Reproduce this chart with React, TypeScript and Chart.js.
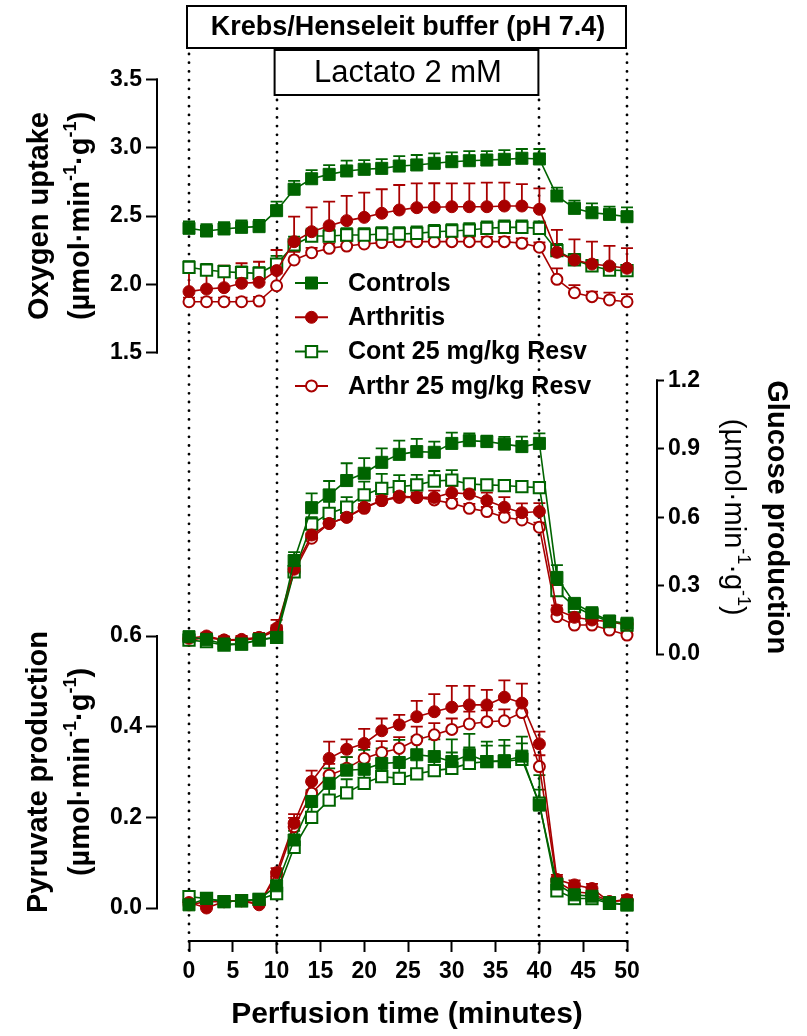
import React, { useEffect, useRef } from 'react';
import { Chart, registerables } from 'chart.js';

Chart.register(...registerables);

// ---------------- data ----------------
const TIME = [0, 2, 4, 6, 8, 10, 12, 14, 16, 18, 20, 22, 24, 26, 28, 30, 32, 34, 36, 38, 40, 42, 44, 46, 48, 50];
const X_TICKS = [0, 5, 10, 15, 20, 25, 30, 35, 40, 45, 50];
const O2_TICKS = [1.5, 2.0, 2.5, 3.0, 3.5];
const GLU_TICKS = [0, 0.3, 0.6, 0.9, 1.2];
const PYR_TICKS = [0, 0.2, 0.4, 0.6];
const PHASE_MARKS = [0, 10, 40, 50];

const SERIES_LABELS = ['Controls', 'Arthritis', 'Cont 25 mg/kg Resv', 'Arthr 25 mg/kg Resv'];

// Oxygen uptake
const O2_CONTROLS = [2.41, 2.39, 2.405, 2.417, 2.422, 2.539, 2.696, 2.773, 2.805, 2.83, 2.842, 2.849, 2.866, 2.874, 2.886, 2.898, 2.905, 2.91, 2.915, 2.923, 2.918, 2.647, 2.556, 2.524, 2.512, 2.495];
const O2_CONTROLS_SEM = [0.05, 0.05, 0.05, 0.05, 0.05, 0.066, 0.061, 0.063, 0.068, 0.076, 0.068, 0.068, 0.073, 0.073, 0.073, 0.068, 0.071, 0.066, 0.068, 0.068, 0.073, 0.061, 0.056, 0.068, 0.056, 0.068];
const O2_ARTHRITIS = [1.946, 1.965, 1.975, 2.007, 2.014, 2.1, 2.312, 2.385, 2.429, 2.466, 2.49, 2.52, 2.544, 2.561, 2.564, 2.568, 2.568, 2.568, 2.573, 2.573, 2.549, 2.234, 2.178, 2.148, 2.134, 2.117];
const O2_ARTHRITIS_SEM = [0.147, 0.164, 0.161, 0.147, 0.151, 0.151, 0.183, 0.178, 0.176, 0.181, 0.181, 0.176, 0.183, 0.178, 0.176, 0.171, 0.171, 0.176, 0.171, 0.161, 0.154, 0.164, 0.151, 0.164, 0.147, 0.147];
const O2_CONT_RESV = [2.124, 2.104, 2.092, 2.085, 2.08, 2.148, 2.288, 2.353, 2.353, 2.361, 2.361, 2.368, 2.368, 2.373, 2.385, 2.39, 2.397, 2.41, 2.417, 2.417, 2.41, 2.246, 2.178, 2.134, 2.104, 2.1];
const O2_CONT_RESV_SEM = [0.045, 0.045, 0.045, 0.045, 0.045, 0.06, 0.06, 0.055, 0.05, 0.05, 0.05, 0.05, 0.05, 0.05, 0.05, 0.05, 0.05, 0.05, 0.05, 0.05, 0.05, 0.05, 0.045, 0.045, 0.04, 0.04];
const O2_ARTHR_RESV = [1.872, 1.872, 1.872, 1.872, 1.877, 1.989, 2.178, 2.231, 2.263, 2.28, 2.295, 2.305, 2.312, 2.312, 2.312, 2.312, 2.312, 2.312, 2.312, 2.3, 2.271, 2.036, 1.938, 1.909, 1.885, 1.872];
const O2_ARTHR_RESV_SEM = [0.03, 0.03, 0.03, 0.03, 0.03, 0.09, 0.06, 0.035, 0.035, 0.035, 0.035, 0.035, 0.035, 0.035, 0.035, 0.035, 0.035, 0.035, 0.035, 0.035, 0.035, 0.08, 0.056, 0.037, 0.054, 0.056];

// Glucose production
const GLU_CONTROLS = [0.076, 0.064, 0.044, 0.044, 0.064, 0.073, 0.41, 0.642, 0.698, 0.761, 0.793, 0.841, 0.876, 0.888, 0.885, 0.924, 0.936, 0.932, 0.921, 0.91, 0.924, 0.336, 0.222, 0.181, 0.145, 0.135];
const GLU_CONTROLS_SEM = [0.015, 0.015, 0.015, 0.015, 0.015, 0.02, 0.037, 0.063, 0.061, 0.076, 0.066, 0.061, 0.06, 0.056, 0.047, 0.047, 0.032, 0.026, 0.032, 0.044, 0.044, 0.054, 0.02, 0.02, 0.015, 0.015];
const GLU_ARTHRITIS = [0.069, 0.079, 0.061, 0.064, 0.073, 0.113, 0.372, 0.522, 0.573, 0.6, 0.644, 0.673, 0.693, 0.687, 0.687, 0.708, 0.702, 0.673, 0.644, 0.62, 0.625, 0.193, 0.161, 0.149, 0.142, 0.132];
const GLU_ARTHRITIS_SEM = [0.015, 0.015, 0.015, 0.015, 0.02, 0.037, 0.03, 0.037, 0.03, 0.03, 0.03, 0.03, 0.03, 0.03, 0.03, 0.03, 0.03, 0.035, 0.044, 0.041, 0.037, 0.02, 0.02, 0.015, 0.015, 0.015];
const GLU_CONT_RESV = [0.061, 0.054, 0.039, 0.044, 0.061, 0.073, 0.361, 0.57, 0.617, 0.644, 0.698, 0.727, 0.734, 0.742, 0.759, 0.763, 0.746, 0.742, 0.739, 0.734, 0.73, 0.278, 0.208, 0.171, 0.142, 0.127];
const GLU_CONT_RESV_SEM = [0.015, 0.015, 0.015, 0.015, 0.015, 0.02, 0.03, 0.03, 0.051, 0.044, 0.058, 0.063, 0.051, 0.044, 0.044, 0.044, 0.02, 0.02, 0.02, 0.02, 0.02, 0.03, 0.02, 0.02, 0.015, 0.015];
const GLU_ARTHR_RESV = [0.061, 0.073, 0.061, 0.061, 0.069, 0.105, 0.361, 0.508, 0.573, 0.6, 0.639, 0.673, 0.687, 0.687, 0.676, 0.661, 0.639, 0.625, 0.6, 0.588, 0.556, 0.164, 0.127, 0.127, 0.105, 0.083];
const GLU_ARTHR_RESV_SEM = [0.015, 0.015, 0.015, 0.015, 0.015, 0.02, 0.02, 0.02, 0.02, 0.02, 0.02, 0.02, 0.02, 0.02, 0.02, 0.02, 0.02, 0.02, 0.02, 0.02, 0.02, 0.02, 0.015, 0.015, 0.015, 0.015];

// Pyruvate production
const PYR_CONTROLS = [0.007, 0.021, 0.014, 0.016, 0.019, 0.049, 0.15, 0.235, 0.275, 0.304, 0.306, 0.319, 0.321, 0.338, 0.334, 0.323, 0.338, 0.323, 0.325, 0.335, 0.227, 0.053, 0.029, 0.026, 0.012, 0.007];
const PYR_CONTROLS_SEM = [0.01, 0.01, 0.01, 0.01, 0.01, 0.015, 0.02, 0.025, 0.033, 0.029, 0.043, 0.033, 0.05, 0.04, 0.038, 0.049, 0.046, 0.044, 0.046, 0.043, 0.066, 0.01, 0.01, 0.01, 0.01, 0.01];
const PYR_ARTHRITIS = [0.012, 0.0, 0.014, 0.016, 0.007, 0.078, 0.187, 0.279, 0.33, 0.35, 0.363, 0.391, 0.404, 0.422, 0.433, 0.443, 0.448, 0.448, 0.465, 0.452, 0.362, 0.063, 0.051, 0.043, 0.014, 0.018];
const PYR_ARTHRITIS_SEM = [0.01, 0.01, 0.01, 0.01, 0.01, 0.01, 0.02, 0.024, 0.037, 0.022, 0.032, 0.027, 0.022, 0.035, 0.039, 0.047, 0.042, 0.033, 0.037, 0.043, 0.027, 0.01, 0.01, 0.01, 0.01, 0.01];
const PYR_CONT_RESV = [0.025, 0.021, 0.014, 0.016, 0.019, 0.032, 0.134, 0.2, 0.238, 0.254, 0.275, 0.29, 0.286, 0.296, 0.303, 0.308, 0.319, 0.323, 0.323, 0.328, 0.231, 0.038, 0.021, 0.021, 0.01, 0.007];
const PYR_CONT_RESV_SEM = [0.01, 0.01, 0.01, 0.01, 0.01, 0.01, 0.02, 0.025, 0.03, 0.03, 0.03, 0.035, 0.035, 0.035, 0.035, 0.035, 0.035, 0.035, 0.035, 0.035, 0.03, 0.01, 0.01, 0.01, 0.01, 0.01];
const PYR_ARTHR_RESV = [0.007, 0.014, 0.014, 0.016, 0.01, 0.069, 0.179, 0.253, 0.293, 0.308, 0.33, 0.343, 0.352, 0.371, 0.382, 0.394, 0.406, 0.411, 0.413, 0.431, 0.312, 0.058, 0.036, 0.032, 0.014, 0.018];
const PYR_ARTHR_RESV_SEM = [0.01, 0.01, 0.01, 0.01, 0.01, 0.01, 0.02, 0.025, 0.025, 0.025, 0.025, 0.025, 0.025, 0.029, 0.026, 0.024, 0.027, 0.025, 0.025, 0.025, 0.025, 0.01, 0.01, 0.01, 0.01, 0.01];

// ---------------- styles & layout ----------------
const GREEN = '#006400';
const RED = '#a80000';
const FAMILY = '"Liberation Sans", Arial, Helvetica, sans-serif';
const W = 807;
const H = 1036;
const AREA = { left: 158, right: 656, top: 50, bottom: 940 };
const SPLIT = 495; // boundary between the two stacked left axes
const X_PX = { v0: 0, p0: 189, v1: 50, p1: 627 };

const SERIES_STYLE = [
  { color: GREEN, shape: 'rect', filled: true },
  { color: RED, shape: 'circle', filled: true },
  { color: GREEN, shape: 'rect', filled: false },
  { color: RED, shape: 'circle', filled: false },
];

type Part = { t: string; sup?: boolean };
const UNIT_PARTS: Part[] = [{ t: '(µmol·min' }, { t: '-1', sup: true }, { t: '·g' }, { t: '-1', sup: true }, { t: ')' }];

// value range of an axis box [boxTop, boxBottom] so that [vLo,vHi] lands on pixels [pLo,pHi]
function spanFor(vLo: number, vHi: number, pLo: number, pHi: number, boxTop: number, boxBottom: number) {
  const k = (vHi - vLo) / (pLo - pHi);
  return { min: vLo - (boxBottom - pLo) * k, max: vHi + (pHi - boxTop) * k };
}
function xSpan() {
  const k = (X_PX.v1 - X_PX.v0) / (X_PX.p1 - X_PX.p0);
  return { min: X_PX.v0 - (X_PX.p0 - AREA.left) * k, max: X_PX.v1 + (AREA.right - X_PX.p1) * k };
}

const PANELS = [
  { axis: 'yO', values: [O2_CONTROLS, O2_ARTHRITIS, O2_CONT_RESV, O2_ARTHR_RESV], sems: [O2_CONTROLS_SEM, O2_ARTHRITIS_SEM, O2_CONT_RESV_SEM, O2_ARTHR_RESV_SEM] },
  { axis: 'yG', values: [GLU_CONTROLS, GLU_ARTHRITIS, GLU_CONT_RESV, GLU_ARTHR_RESV], sems: [GLU_CONTROLS_SEM, GLU_ARTHRITIS_SEM, GLU_CONT_RESV_SEM, GLU_ARTHR_RESV_SEM] },
  { axis: 'yP', values: [PYR_CONTROLS, PYR_ARTHRITIS, PYR_CONT_RESV, PYR_ARTHR_RESV], sems: [PYR_CONTROLS_SEM, PYR_ARTHRITIS_SEM, PYR_CONT_RESV_SEM, PYR_ARTHR_RESV_SEM] },
];

function drawMarker(ctx: CanvasRenderingContext2D, shape: string, filled: boolean, color: string, x: number, y: number) {
  ctx.save();
  ctx.fillStyle = filled ? color : '#ffffff';
  ctx.strokeStyle = color;
  ctx.lineWidth = filled ? 1 : 2;
  ctx.beginPath();
  if (shape === 'rect') {
    const s = filled ? 6 : 5.7;
    ctx.rect(x - s, y - s, 2 * s, 2 * s);
  } else {
    ctx.arc(x, y, filled ? 6 : 5.5, 0, Math.PI * 2);
  }
  ctx.fill();
  ctx.stroke();
  ctx.restore();
}

function drawRich(ctx: CanvasRenderingContext2D, parts: Part[], cx: number, cy: number, rot: number, size: number, weight: string) {
  ctx.save();
  ctx.translate(cx, cy);
  ctx.rotate(rot);
  ctx.textBaseline = 'middle';
  ctx.textAlign = 'left';
  ctx.fillStyle = '#000';
  const fontFor = (p: Part) => `${weight} ${p.sup ? Math.round(size * 0.62) : size}px ${FAMILY}`;
  const widths = parts.map((p) => {
    ctx.font = fontFor(p);
    return ctx.measureText(p.t).width;
  });
  const total = widths.reduce((a, b) => a + b, 0);
  let x = -total / 2;
  parts.forEach((p, i) => {
    ctx.font = fontFor(p);
    ctx.fillText(p.t, x, p.sup ? -size * 0.36 : 0);
    x += widths[i];
  });
  ctx.restore();
}

const decorPlugin = {
  id: 'decor',
  beforeDatasetsDraw(chart: any) {
    const ctx: CanvasRenderingContext2D = chart.ctx;
    const xs = chart.scales.x;
    // dotted phase lines
    ctx.save();
    ctx.strokeStyle = '#000';
    ctx.lineWidth = 2.8;
    ctx.lineCap = 'round';
    ctx.setLineDash([0, 8.7]);
    PHASE_MARKS.forEach((v) => {
      const inner = v > PHASE_MARKS[0] && v < PHASE_MARKS[PHASE_MARKS.length - 1];
      const px = Math.round(xs.getPixelForValue(v));
      ctx.beginPath();
      ctx.moveTo(px, inner ? 100 : 54);
      ctx.lineTo(px, AREA.bottom + 18);
      ctx.stroke();
    });
    ctx.restore();

    // error bars (upper only)
    ctx.save();
    ctx.setLineDash([]);
    ctx.lineWidth = 1.8;
    for (let i = chart.data.datasets.length - 1; i >= 0; i--) {
      const ds = chart.data.datasets[i];
      const ys = chart.scales[ds.yAxisID];
      const meta = chart.getDatasetMeta(i);
      ctx.strokeStyle = ds.borderColor;
      meta.data.forEach((pt: any, j: number) => {
        const top = ys.getPixelForValue(ds.data[j].y + ds.sem[j]);
        ctx.beginPath();
        ctx.moveTo(pt.x, pt.y);
        ctx.lineTo(pt.x, top);
        ctx.moveTo(pt.x - 6, top);
        ctx.lineTo(pt.x + 6, top);
        ctx.stroke();
      });
    }
    ctx.restore();
  },
  afterDraw(chart: any) {
    const ctx: CanvasRenderingContext2D = chart.ctx;
    const { x: xs, yO, yG, yP } = chart.scales;
    ctx.save();
    ctx.strokeStyle = '#000';
    ctx.lineWidth = 2;
    ctx.lineCap = 'square';
    const vline = (px: number, a: number, b: number) => {
      ctx.beginPath();
      ctx.moveTo(px, a);
      ctx.lineTo(px, b);
      ctx.stroke();
    };
    // axis lines spanning only the tick range
    vline(yO.right - 1, yO.getPixelForValue(O2_TICKS[O2_TICKS.length - 1]), yO.getPixelForValue(O2_TICKS[0]));
    vline(yP.right - 1, yP.getPixelForValue(PYR_TICKS[PYR_TICKS.length - 1]), yP.getPixelForValue(PYR_TICKS[0]));
    vline(yG.left + 1, yG.getPixelForValue(GLU_TICKS[GLU_TICKS.length - 1]), yG.getPixelForValue(GLU_TICKS[0]));
    ctx.beginPath();
    ctx.moveTo(xs.getPixelForValue(X_TICKS[0]), xs.top + 1);
    ctx.lineTo(xs.getPixelForValue(X_TICKS[X_TICKS.length - 1]), xs.top + 1);
    ctx.stroke();

    // condition boxes
    const x0 = xs.getPixelForValue(PHASE_MARKS[0]);
    const x10 = xs.getPixelForValue(PHASE_MARKS[1]);
    const x40 = xs.getPixelForValue(PHASE_MARKS[2]);
    const x50 = xs.getPixelForValue(PHASE_MARKS[3]);
    ctx.lineCap = 'butt';
    ctx.fillStyle = '#fff';
    ctx.fillRect(x0 - 2, 6, x50 - x0 + 1, 42);
    ctx.strokeRect(x0 - 2, 6, x50 - x0 + 1, 42);
    ctx.fillRect(x10 - 2, 50, x40 - x10 + 1, 45);
    ctx.strokeRect(x10 - 2, 50, x40 - x10 + 1, 45);
    ctx.fillStyle = '#000';
    ctx.textAlign = 'center';
    ctx.textBaseline = 'middle';
    ctx.font = `bold 27px ${FAMILY}`;
    ctx.fillText('Krebs/Henseleit buffer (pH 7.4)', (x0 + x50) / 2, 28);
    ctx.font = `31px ${FAMILY}`;
    ctx.fillText('Lactato 2 mM', (x10 + x40) / 2, 73);

    // y-axis titles
    const midO = (yO.getPixelForValue(O2_TICKS[0]) + yO.getPixelForValue(O2_TICKS[O2_TICKS.length - 1])) / 2;
    const midP = (yP.getPixelForValue(PYR_TICKS[0]) + yP.getPixelForValue(PYR_TICKS[PYR_TICKS.length - 1])) / 2;
    const midG = (yG.getPixelForValue(GLU_TICKS[0]) + yG.getPixelForValue(GLU_TICKS[GLU_TICKS.length - 1])) / 2;
    drawRich(ctx, [{ t: 'Oxygen uptake' }], 40, midO, -Math.PI / 2, 29, 'bold');
    drawRich(ctx, UNIT_PARTS, 81, midO, -Math.PI / 2, 29, 'bold');
    drawRich(ctx, [{ t: 'Pyruvate production' }], 39, midP, -Math.PI / 2, 29, 'bold');
    drawRich(ctx, UNIT_PARTS, 81, midP, -Math.PI / 2, 29, 'bold');
    drawRich(ctx, [{ t: 'Glucose production' }], 776, midG, Math.PI / 2, 29, 'bold');
    drawRich(ctx, UNIT_PARTS, 733, midG, Math.PI / 2, 29, 'normal');

    // legend
    const LX = 295;
    const LW = 33;
    const LY = 283;
    const LDY = 34.3;
    SERIES_LABELS.forEach((label, i) => {
      const st = SERIES_STYLE[i];
      const y = LY + i * LDY;
      ctx.strokeStyle = st.color;
      ctx.lineWidth = 2;
      ctx.beginPath();
      ctx.moveTo(LX, y);
      ctx.lineTo(LX + LW, y);
      ctx.stroke();
      drawMarker(ctx, st.shape, st.filled, st.color, LX + LW / 2, y);
      ctx.fillStyle = '#000';
      ctx.textAlign = 'left';
      ctx.textBaseline = 'middle';
      ctx.font = `bold 25px ${FAMILY}`;
      ctx.fillText(label, 348, y + 1);
    });
    ctx.restore();
  },
};

function tickFont() {
  return { family: FAMILY, size: 23, weight: 'bold' as const };
}

function yAxis(position: string, ticks: number[], span: { min: number; max: number }, weight: number, width: number, tickLength: number, stackWeight: number, stack?: string) {
  const cfg: any = {
    type: 'linear' as const,
    position,
    min: span.min,
    max: span.max,
    weight,
    afterBuildTicks: (s: any) => {
      s.ticks = ticks.map((v) => ({ value: v }));
    },
    afterFit: (s: any) => {
      s.width = width;
    },
    grid: { display: true, drawOnChartArea: false, drawTicks: true, tickLength, tickWidth: 2, tickColor: '#000', color: '#000' },
    border: { display: false },
    ticks: { autoSkip: false, padding: 4, color: '#000', font: tickFont(), callback: (v: any) => Number(v).toFixed(1) },
  };
  if (stack) {
    cfg.stack = stack;
    cfg.stackWeight = stackWeight;
  }
  return cfg;
}

export default function App() {
  const ref = useRef<HTMLCanvasElement | null>(null);
  useEffect(() => {
    if (!ref.current) return;
    const datasets: any[] = [];
    PANELS.forEach((panel) => {
      panel.values.forEach((vals, i) => {
        const st = SERIES_STYLE[i];
        datasets.push({
          label: SERIES_LABELS[i],
          yAxisID: panel.axis,
          data: TIME.map((t, j) => ({ x: t, y: vals[j] })),
          sem: panel.sems[i],
          borderColor: st.color,
          borderWidth: 1.6,
          backgroundColor: st.filled ? st.color : '#ffffff',
          pointStyle: st.shape,
          pointRadius: st.shape === 'rect' ? (st.filled ? 8.5 : 8) : st.filled ? 6 : 5.5,
          pointBackgroundColor: st.filled ? st.color : '#ffffff',
          pointBorderColor: st.color,
          pointBorderWidth: st.filled ? 1 : 2,
          fill: false,
          tension: 0,
          clip: false,
        });
      });
    });
    const xr = xSpan();
    const topW = SPLIT - AREA.top;
    const botW = AREA.bottom - SPLIT;
    const chart = new Chart(ref.current, {
      type: 'line',
      data: { datasets },
      plugins: [decorPlugin as any],
      options: {
        animation: false,
        responsive: false,
        devicePixelRatio: 1,
        events: [],
        layout: { padding: { top: AREA.top, left: 0, right: 0, bottom: 0 } },
        plugins: { legend: { display: false }, tooltip: { enabled: false }, title: { display: false } },
        scales: {
          x: {
            type: 'linear',
            position: 'bottom',
            min: xr.min,
            max: xr.max,
            afterBuildTicks: (s: any) => {
              s.ticks = X_TICKS.map((v) => ({ value: v }));
            },
            afterFit: (s: any) => {
              s.height = H - AREA.bottom;
            },
            grid: { display: true, drawOnChartArea: false, drawTicks: true, tickLength: 12, tickWidth: 2, tickColor: '#000', color: '#000' },
            border: { display: false },
            ticks: { autoSkip: false, maxRotation: 0, padding: 6, color: '#000', font: tickFont(), callback: (v: any) => String(v) },
            title: { display: true, text: 'Perfusion time (minutes)', color: '#000', font: { family: FAMILY, size: 30, weight: 'bold' }, padding: { top: 0, bottom: 3 } },
          },
          yO: yAxis('left', O2_TICKS, spanFor(1.5, 3.5, 352.5, 79.5, AREA.top, SPLIT), 1, AREA.left, 12, topW, 'leftStack'),
          yP: yAxis('left', PYR_TICKS, spanFor(0, 0.6, 908, 636, SPLIT, AREA.bottom), 0, AREA.left, 12, botW, 'leftStack'),
          yG: yAxis('right', GLU_TICKS, spanFor(0, 1.2, 654, 380.5, AREA.top, AREA.bottom), 0, W - AREA.right, 8, 1),
        } as any,
      },
    });
    return () => chart.destroy();
  }, []);
  return (
    <div style={{ position: 'absolute', left: 0, top: 0, width: W, height: H, background: '#fff' }}>
      <canvas ref={ref} width={W} height={H} style={{ width: W, height: H, display: 'block' }} />
    </div>
  );
}
